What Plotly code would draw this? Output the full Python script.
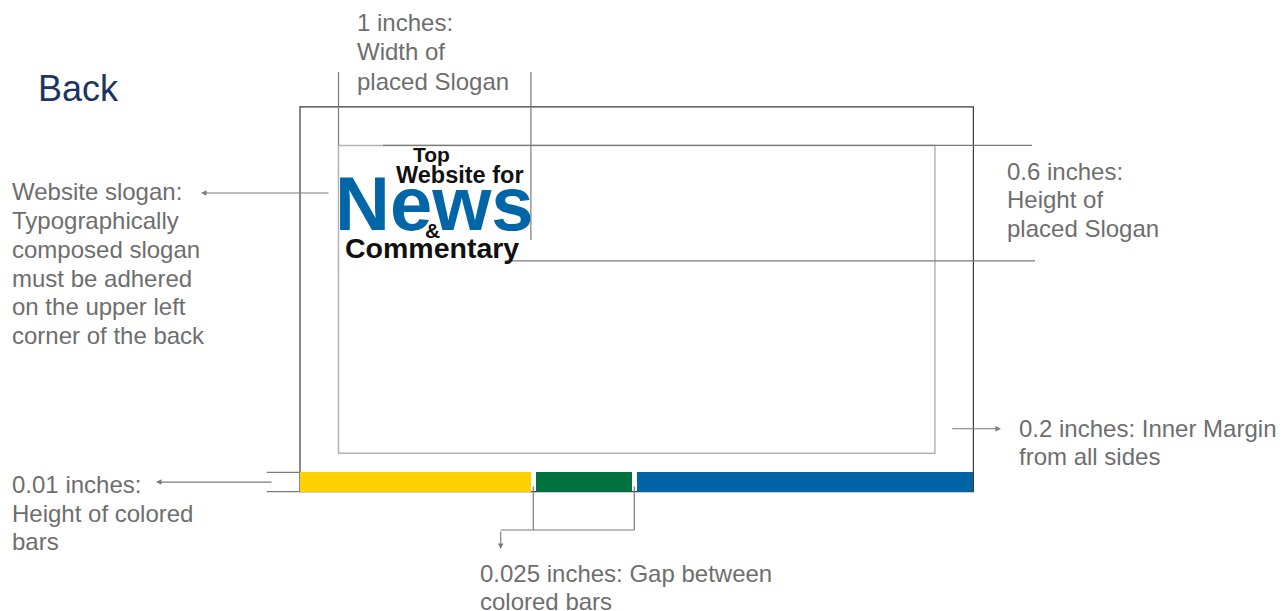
import plotly.graph_objects as go

# ---- data (inches) ----
card_w = 3.5
card_h = 2.0
inner_margin = 0.2
slogan_w = 1.0
slogan_h = 0.6
bar_h = 0.1
bar_gap = 0.025
bar_widths = [1.2, 0.5, 1.75]
bar_colors = ["#FDD000", "#00703C", "#0064A6"]
bar_names = ["Yellow", "Green", "Blue"]

title_text = "Back"
width_label = ["1 inches:", "Width of", "placed Slogan"]
height_label = ["0.6 inches:", "Height of", "placed Slogan"]
slogan_label = ["Website slogan:", "Typographically", "composed slogan",
                "must be adhered", "on the upper left", "corner of the back"]
margin_label = ["0.2 inches: Inner Margin", "from all sides"]
barh_label = ["0.01 inches:", "Height of colored", "bars"]
gap_label = ["0.025 inches: Gap between", "colored bars"]
slogan_lines = ["Top", "Website for", "News", "&", "Commentary"]

# ---- layout helpers (pixel -> inch) ----
W, H = 1288, 611
PAD = 8              # page body margin
S = 192.4            # pixels per inch
X0, Y0 = 300, 491.7  # card bottom-left in pixels
def X(px): return (px - X0) / S
def Y(py): return (Y0 - py) / S

GRAY = "#6e6e6e"
LINE = "#7a7a7a"
FONT = "Liberation Sans, Arial, Helvetica, sans-serif"

fig = go.Figure()

# colored bars
starts = []
pos = 0.0
for w in bar_widths:
    starts.append(pos)
    pos += w + bar_gap
fig.add_trace(go.Bar(
    y=[bar_h / 2] * len(bar_widths), x=bar_widths, base=starts,
    orientation="h", width=[bar_h] * len(bar_widths),
    marker=dict(color=bar_colors, line=dict(width=0)),
    hoverinfo="skip", showlegend=False, name="bars",
))

shapes = []
# outer card
shapes.append(dict(type="rect", x0=0, y0=0, x1=card_w, y1=card_h,
                   line=dict(color="#3a3a3a", width=1.2), layer="below"))
# inner margin box
im_l, im_r = inner_margin, card_w - inner_margin
im_b, im_t = inner_margin, card_h - inner_margin
shapes.append(dict(type="rect", x0=im_l, y0=im_b, x1=im_r, y1=im_t,
                   line=dict(color="#b4b4b4", width=1.5), layer="below"))

def seg(x0, y0, x1, y1, color=LINE, width=1.2):
    shapes.append(dict(type="line", x0=x0, y0=y0, x1=x1, y1=y1,
                       line=dict(color=color, width=width), layer="above"))

# slogan width guides
sl_l, sl_r = im_l, im_l + slogan_w
sl_t, sl_b = im_t, im_t - slogan_h
seg(sl_l, Y(72), sl_l, sl_t)
seg(sl_r, Y(72), sl_r, Y(240))
# slogan height guides
seg(X(383), sl_t, X(1032), sl_t)
seg(X(505), sl_b, X(1035), sl_b)
# bar height extension lines
seg(X(266.7), bar_h, 0, bar_h)
seg(X(266.7), 0, 0, 0)
# bar gap guides
g1 = bar_widths[0] + bar_gap / 2
g2 = bar_widths[0] + bar_gap + bar_widths[1] + bar_gap / 2
seg(g1, Y(486.5), g1, Y(530))
seg(g2, Y(486.5), g2, Y(530))
seg(X(500.7), Y(530), g2, Y(530))

annotations = []
def arrow(x_tail, y_tail, x_head, y_head):
    annotations.append(dict(x=x_head, y=y_head, ax=x_tail, ay=y_tail,
                            xref="x", yref="y", axref="x", ayref="y",
                            text="", showarrow=True, arrowhead=2, arrowsize=1.0,
                            arrowwidth=1.1, arrowcolor=LINE, standoff=0))

arrow(X(330), Y(193), X(201), Y(193))          # slogan
arrow(X(950.7), Y(428.7), X(1001), Y(428.7))   # inner margin
arrow(X(273), bar_h / 2, X(156), bar_h / 2)    # bar height
arrow(X(500.7), Y(530), X(500.7), Y(549))      # gap

def lines(texts, px, py_list, size=24, color=GRAY, anchor="left"):
    for t, py in zip(texts, py_list):
        annotations.append(dict(x=X(px), y=Y(py), xref="x", yref="y", text=t,
                                showarrow=False, xanchor=anchor, yanchor="middle",
                                font=dict(family=FONT, size=size, color=color)))

lines([title_text], 36, [88], size=36, color="#1C3464")
lines(width_label, 355, [22, 51.5, 81])
lines(height_label, 1005, [171, 199.5, 228])
lines(slogan_label, 10, [191, 220, 249, 278, 306.5, 335])
lines(margin_label, 1017, [428, 456])
lines(barh_label, 10, [484, 513, 541.5])
lines(gap_label, 478, [573, 601.5])

# slogan artwork
def slog(t, pxc, py, size, color="#111111"):
    annotations.append(dict(x=X(pxc), y=Y(py), xref="x", yref="y",
                            text="<b>%s</b>" % t, showarrow=False,
                            xanchor="center", yanchor="middle",
                            font=dict(family=FONT, size=size, color=color)))

slog(slogan_lines[0], 431.5, 154.5, 21)
slog(slogan_lines[1], 459.5, 175, 23.5)
slog(slogan_lines[2], 434.5, 203, 76, color="#0066A8")
slog(slogan_lines[3], 432, 230, 21)
slog(slogan_lines[4], 431.5, 247.5, 28.5)

fig.update_layout(
    width=W - PAD, height=H - PAD, margin=dict(l=0, r=0, t=0, b=0),
    paper_bgcolor="white", plot_bgcolor="white",
    xaxis=dict(range=[X(PAD), X(W)], visible=False, fixedrange=True),
    yaxis=dict(range=[Y(H), Y(PAD)], visible=False, fixedrange=True),
    shapes=shapes, annotations=annotations, showlegend=False,
    bargap=0,
)

fig.write_html("out.html")
